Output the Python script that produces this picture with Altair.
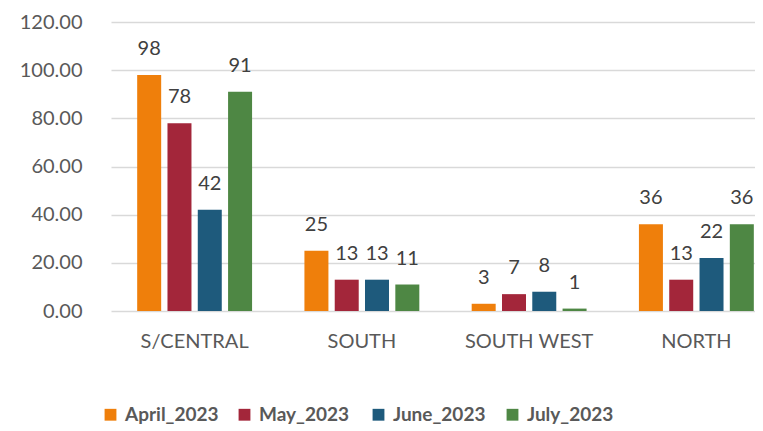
import altair as alt
import pandas as pd

regions = ["S/CENTRAL", "SOUTH", "SOUTH WEST", "NORTH"]
months = ["April_2023", "May_2023", "June_2023", "July_2023"]
april = [98, 25, 3, 36]
may = [78, 13, 7, 13]
june = [42, 13, 8, 22]
july = [91, 11, 1, 36]
colors = ["#EF7F0B", "#A3263A", "#1E5A7C", "#4E8744"]

rows = []
for series, m in zip([april, may, june, july], months):
    for r, v in zip(regions, series):
        rows.append({"region": r, "month": m, "value": v})
df = pd.DataFrame(rows)

FONT = "Lato"

x = alt.X("region:N", sort=regions, title=None,
          scale=alt.Scale(range=[0, 669], paddingInner=0, paddingOuter=0),
          axis=alt.Axis(labelAngle=0, domain=False, ticks=False, labelPadding=20,
                        labelFontSize=20, labelColor="#595959", labelFont=FONT, grid=False))
xo = alt.XOffset("month:N", sort=months,
                 scale=alt.Scale(paddingInner=0.208, paddingOuter=0.864))
y = alt.Y("value:Q", title=None,
          scale=alt.Scale(domain=[0, 120], nice=False),
          axis=alt.Axis(values=[0, 20, 40, 60, 80, 100, 120], format=".2f", domain=False,
                        ticks=False, labelPadding=29, labelFontSize=20, labelColor="#595959",
                        labelFont=FONT, gridColor="#D9D9D9", gridWidth=1.5))

bars = alt.Chart(df).mark_bar().encode(
    x=x, xOffset=xo, y=y,
    color=alt.Color("month:N", sort=months,
                    scale=alt.Scale(domain=months, range=colors),
                    legend=alt.Legend(title=None, orient="none", direction="horizontal",
                                      legendX=-10, legendY=383, symbolType="square",
                                      symbolSize=140, symbolStrokeWidth=0, labelFontSize=19,
                                      labelFontWeight="bold", labelColor="#595959",
                                      labelFont=FONT, gridAlign="all", columnPadding=16,
                                      labelOffset=5)),
)

labels = alt.Chart(df).mark_text(baseline="middle", dy=-26, fontSize=20,
                                 color="#404040", font=FONT).encode(
    x=x, xOffset=xo, y=y, text=alt.Text("value:Q")
)

chart = (bars + labels).properties(
    width=644, height=289,
    autosize=alt.AutoSizeParams(type="none"),
    padding={"left": 103, "top": 14, "right": 0, "bottom": 120},
).configure_view(stroke=None)

chart.save("out.html", embed_options={"renderer": "svg", "actions": False})
